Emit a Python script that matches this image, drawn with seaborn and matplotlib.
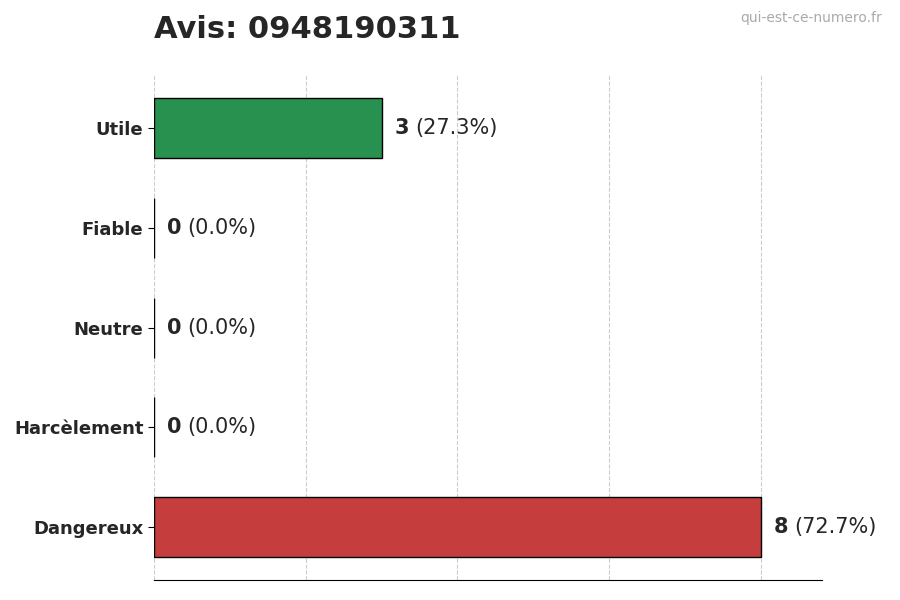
import matplotlib
matplotlib.use("Agg")
import matplotlib.pyplot as plt
import seaborn as sns
import pandas as pd

categories = ["Utile", "Fiable", "Neutre", "Harcèlement", "Dangereux"]
counts = [3, 0, 0, 0, 8]
percents = [27.3, 0.0, 0.0, 0.0, 72.7]
colors = ["#16a34a", "#9ca3af", "#6b7280", "#f97316", "#dc2626"]

sns.set_style("white")
plt.rcParams['font.family'] = ['DejaVu Sans']
df = pd.DataFrame({"cat": categories, "n": counts})

fig = plt.figure(figsize=(9, 6), dpi=100)
ax = fig.add_axes([0.171, 0.033, 0.742, 0.842])
sns.barplot(data=df, y="cat", x="n", hue="cat", palette=colors, orient="h",
            width=0.6, edgecolor="black", linewidth=1, legend=False, ax=ax)
ax.set_xlim(0, 8.8)
ax.set_ylim(4.53, -0.53)
ax.set_xticks([0, 2, 4, 6, 8])
ax.set_xticklabels([])
ax.tick_params(axis="x", length=5, color="black")
ax.tick_params(axis="y", length=4, left=True, color="black")
ax.xaxis.grid(True, linestyle="--", color="#cccccc", linewidth=0.8)
ax.set_axisbelow(True)
for s in ["top", "right", "left"]:
    ax.spines[s].set_visible(False)
ax.spines["bottom"].set_color("black")
ax.set_xlabel("")
ax.set_ylabel("")
for lbl in ax.get_yticklabels():
    lbl.set_fontweight("bold")
    lbl.set_fontsize(13)

for i, (c, p) in enumerate(zip(counts, percents)):
    ax.text(c + 0.17, i, str(c), va="center", ha="left", fontsize=15, fontweight="bold")
    ax.annotate(f"({p:.1f}%)", xy=(c + 0.17, i), xytext=(15, 0), textcoords="offset points",
                va="center", ha="left", fontsize=15)

fig.text(0.171, 0.95, "Avis: 0948190311", fontsize=22, fontweight="bold", ha="left", va="center")
fig.text(0.98, 0.97, "qui-est-ce-numero.fr", fontsize=10, color="#aaaaaa", ha="right", va="center")
fig.savefig("out.png", dpi=100)
